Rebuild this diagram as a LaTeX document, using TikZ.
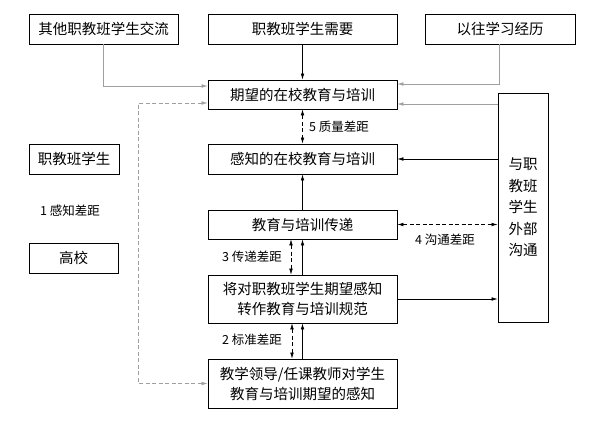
\documentclass[tikz,border=0pt]{standalone}
\usepackage{fontspec}
\setmainfont{Noto Sans CJK SC}
\usetikzlibrary{positioning,arrows.meta,calc}
\tikzset{
  box/.style={draw, line width=0.8pt, font=\fontsize{14.5}{20}\selectfont, inner sep=2pt, minimum width=189pt, minimum height=30pt, align=center},
  sbox/.style={box, minimum width=90pt},
  lbl/.style={font=\fontsize{12.5}{15}\selectfont, inner sep=1pt},
  fl/.style={-{Latex[length=6pt,width=3.6pt]}, line width=0.6pt},
  gl/.style={fl, gray!75},
  gap/.style={{Latex[length=6pt,width=3.6pt]}-{Latex[length=6pt,width=3.6pt]}, line width=0.6pt, dash pattern=on 4pt off 2.5pt},
  ggap/.style={gap, gray!75},
}
\begin{document}
\begin{tikzpicture}[x=1pt, y=-1pt]
\useasboundingbox (0,0) rectangle (591,423);
% top row
\node[box, minimum width=149pt] (others) at (103.5,29) {其他职教班学生交流};
\node[box] (needs) at (302.5,29) {职教班学生需要};
\node[box, minimum width=150pt] (past) at (500,29) {以往学习经历};
% middle column
\node[box, minimum height=29pt] (expect) at (302.5,94.5) {期望的在校教育与培训};
\node[box] (perceive) at (302.5,159) {感知的在校教育与培训};
\node[box, minimum height=29pt] (deliver) at (302.5,224.5) {教育与培训传递};
\node[box, minimum height=48pt] (spec) at (302.5,299) {将对职教班学生期望感知\\转作教育与培训规范};
\node[box, minimum height=49pt] (lead) at (302.5,383.5) {教学领导/任课教师对学生\\教育与培训期望的感知};
% right and left
\node[box, minimum width=50pt, minimum height=229pt, font=\fontsize{14.5}{21.5}\selectfont] (ext) at (523,207.5) {与职\\教班\\学生\\外部\\沟通};
\node[sbox] (stu) at (74,159) {职教班学生};
\node[lbl] (gapone) at (70,211) {1 感知差距};
\node[sbox, minimum width=89pt] (uni) at (73.5,258) {高校};
% inputs
\draw[gl] (others.south) |- ([yshift=8.5pt]expect.west);
\draw[fl] (needs.south) -- (expect.north);
\draw[gl] ([xshift=-1pt]past.south) |- ([yshift=10.5pt]expect.east);
\draw[gl] ([yshift=-9.5pt]expect.east -| ext.west) -- ([yshift=-9.5pt]expect.east);
\draw[fl] (perceive.east -| ext.west) -- (perceive.east);
\draw[fl] (spec.east) -- (spec.east -| ext.west);
% gaps
\draw[ggap] ([yshift=-8.5pt]expect.west) -- ++(-69,0) |- (lead.west);
\draw[gap] (expect.south) -- (perceive.north);
\node[lbl, anchor=west] (gapfive) at (308,127) {5 质量差距};
\draw[fl] (deliver.north) -- (perceive.south);
\draw[gap] (deliver.east) -- (deliver.east -| ext.west);
\node[lbl] (gapfour) at (445,240) {4 沟通差距};
\draw[gap] ([xshift=-11.5pt]deliver.south) -- ([xshift=-11.5pt]spec.north);
\draw[fl] (spec.north) -- (deliver.south);
\node[lbl, anchor=east] (gapthree) at (283,257) {3 传递差距};
\draw[gap] ([xshift=-10.5pt]spec.south) -- ([xshift=-10.5pt]lead.north);
\draw[fl] (lead.north) -- (spec.south);
\node[lbl, anchor=east] (gaptwo) at (283,340) {2 标准差距};
\end{tikzpicture}
\end{document}
